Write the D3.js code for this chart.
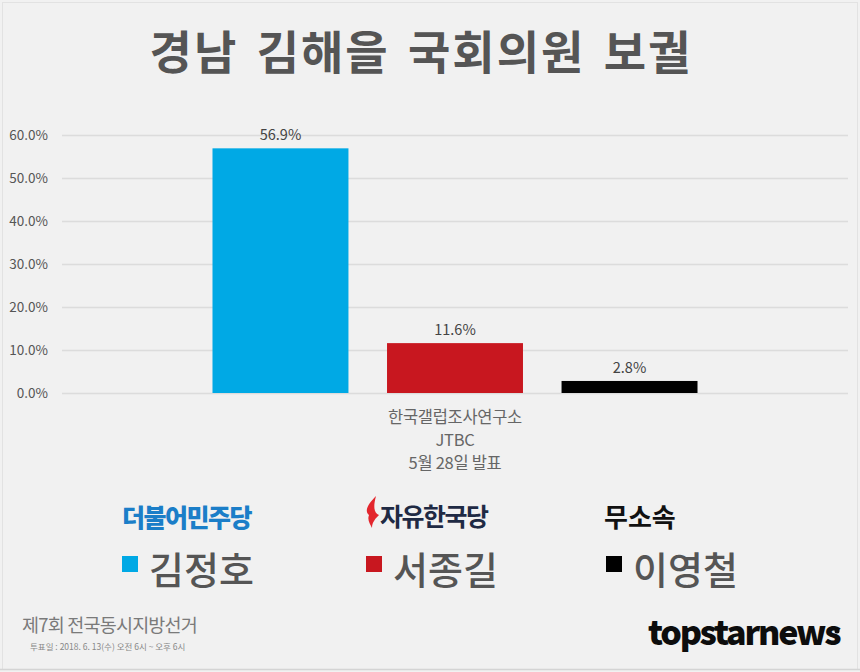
<!DOCTYPE html>
<html>
<head>
<meta charset="utf-8">
<script src="https://cdn.jsdelivr.net/npm/d3@7"></script>
<style>
  html, body { margin: 0; padding: 0; background: #f1f1f1; }
  svg { display: block; }
  text { font-family: "Noto Sans CJK KR", "Noto Sans", sans-serif; }
</style>
</head>
<body>
<svg id="chart" width="860" height="672"></svg>
<script>
// ---- data ----
const title = "경남 김해을 국회의원 보궐";
const categories = ["한국갤럽조사연구소|JTBC|5월 28일 발표"];
const candidates = ["김정호", "서종길", "이영철"];
const parties = ["더불어민주당", "자유한국당", "무소속"];
const values = [56.9, 11.6, 2.8];
const colors = ["#00a9e5", "#c8171f", "#000000"];
const partyColors = ["#1b7ec8", "#1f2a44", "#111111"];
const yTicks = [0, 10, 20, 30, 40, 50, 60];
const footerTitle = "제7회 전국동시지방선거";
const footerSub = "투표일 : 2018. 6. 13(수) 오전 6시 ~ 오후 6시";
const brand = "topstarnews";

// ---- layout ----
const svg = d3.select("#chart");
const W = 860, H = 672;
const plot = { left: 62, right: 848, top: 135, bottom: 393 };

svg.append("rect").attr("x", 0).attr("y", 0).attr("width", W).attr("height", H).attr("fill", "#f1f1f1");
svg.append("rect").attr("x", 2.5).attr("y", 2.5).attr("width", W - 5).attr("height", H - 5)
  .attr("fill", "none").attr("stroke", "#e2e2e2").attr("stroke-width", 1);

// title
svg.append("text").attr("x", 421).attr("y", 69).attr("text-anchor", "middle")
  .attr("font-size", 46).attr("font-weight", 700).attr("fill", "#555")
  .attr("letter-spacing", 2).attr("word-spacing", 6)
  .text(title);

// scales
const x0 = d3.scaleBand().domain(categories).range([plot.left, plot.right])
  .paddingInner(0).paddingOuter(0.3103);
const x1 = d3.scaleBand().domain(candidates).range([0, x0.bandwidth()])
  .paddingInner(0.221).paddingOuter(0);
const y = d3.scaleLinear().domain([0, 60]).range([plot.bottom, plot.top]);

// gridlines + y axis
const yAxis = d3.axisLeft(y).tickValues(yTicks).tickFormat(d => d.toFixed(1) + "%")
  .tickSize(-(plot.right - plot.left)).tickPadding(14);
const gy = svg.append("g").attr("transform", `translate(${plot.left},0)`).call(yAxis);
gy.select(".domain").remove();
gy.selectAll(".tick line").attr("stroke", "#dcdcdc").attr("stroke-width", 1.5);
gy.selectAll(".tick text").attr("font-size", 13.5).attr("fill", "#555")
  .attr("font-family", "'Open Sans', 'Noto Sans', sans-serif");

// bars
const g = svg.append("g");
categories.forEach(cat => {
  const gx = x0(cat);
  candidates.forEach((c, i) => {
    g.append("rect")
      .attr("x", gx + x1(c)).attr("y", y(values[i]))
      .attr("width", x1.bandwidth()).attr("height", y(0) - y(values[i]))
      .attr("fill", colors[i]);
    g.append("text")
      .attr("x", gx + x1(c) + x1.bandwidth() / 2).attr("y", y(values[i]) - 8)
      .attr("text-anchor", "middle").attr("font-size", 14.5).attr("fill", "#444")
      .attr("font-family", "'Open Sans', 'Noto Sans', sans-serif")
      .text(values[i].toFixed(1) + "%");
  });
  // category label
  const lines = cat.split("|");
  const cx = gx + x0.bandwidth() / 2;
  lines.forEach((ln, k) => {
    svg.append("text").attr("x", cx).attr("y", 423 + k * 23)
      .attr("text-anchor", "middle").attr("font-size", 16.5).attr("fill", "#666")
      .attr("letter-spacing", -0.3)
      .text(ln);
  });
});

// legend
const legendX = [122, 366, 606];
candidates.forEach((c, i) => {
  const lx = legendX[i];
  // party label
  if (i === 1) {
    // torch mark
    svg.append("path")
      .attr("d", `M${lx + 10},496 C${lx + 2},504 ${lx - 2},511 ${lx + 3},515 C${lx + 1},520 ${lx + 4},524 ${lx + 6},528 C${lx + 6},522 ${lx + 10},518 ${lx + 13},515 C${lx + 8},513 ${lx + 7},507 ${lx + 10},496 Z`)
      .attr("fill", "#e3262d");
    svg.append("text").attr("x", lx + 14).attr("y", 526)
      .attr("font-size", 25).attr("font-weight", 700).attr("fill", partyColors[i])
      .attr("letter-spacing", -1.5).text(parties[i]);
  } else if (i === 0) {
    svg.append("text").attr("x", lx).attr("y", 527)
      .attr("font-size", 25).attr("font-weight", 900).attr("fill", partyColors[i])
      .attr("letter-spacing", -1.5).text(parties[i]);
  } else {
    svg.append("text").attr("x", lx - 2).attr("y", 527)
      .attr("font-size", 26).attr("font-weight", 700).attr("fill", partyColors[i])
      .text(parties[i]);
  }
  // swatch + name
  svg.append("rect").attr("x", lx).attr("y", 556).attr("width", 16).attr("height", 16)
    .attr("fill", colors[i]);
  svg.append("text").attr("x", lx + 27).attr("y", 584)
    .attr("font-size", 38).attr("font-weight", 500).attr("fill", "#555")
    .text(c);
});

// footer
svg.append("text").attr("x", 22).attr("y", 632).attr("font-size", 18.5)
  .attr("fill", "#7a7a7a").attr("letter-spacing", -0.8).text(footerTitle);
svg.append("text").attr("x", 30).attr("y", 650).attr("font-size", 8.5)
  .attr("fill", "#888").text(footerSub);

// brand
svg.append("text").attr("x", 648).attr("y", 645).attr("font-size", 34)
  .attr("font-weight", 800).attr("fill", "#0d0d0d").attr("letter-spacing", -2.2)
  .attr("font-family", "Inter, 'Noto Sans', sans-serif").text(brand);
svg.append("circle").attr("cx", 837).attr("cy", 631).attr("r", 2.5).attr("fill", "#0d0d0d");

// bottom line
svg.append("line").attr("x1", 0).attr("x2", W).attr("y1", 669.5).attr("y2", 669.5)
  .attr("stroke", "#d4d4d4").attr("stroke-width", 1.5);
</script>
</body>
</html>
